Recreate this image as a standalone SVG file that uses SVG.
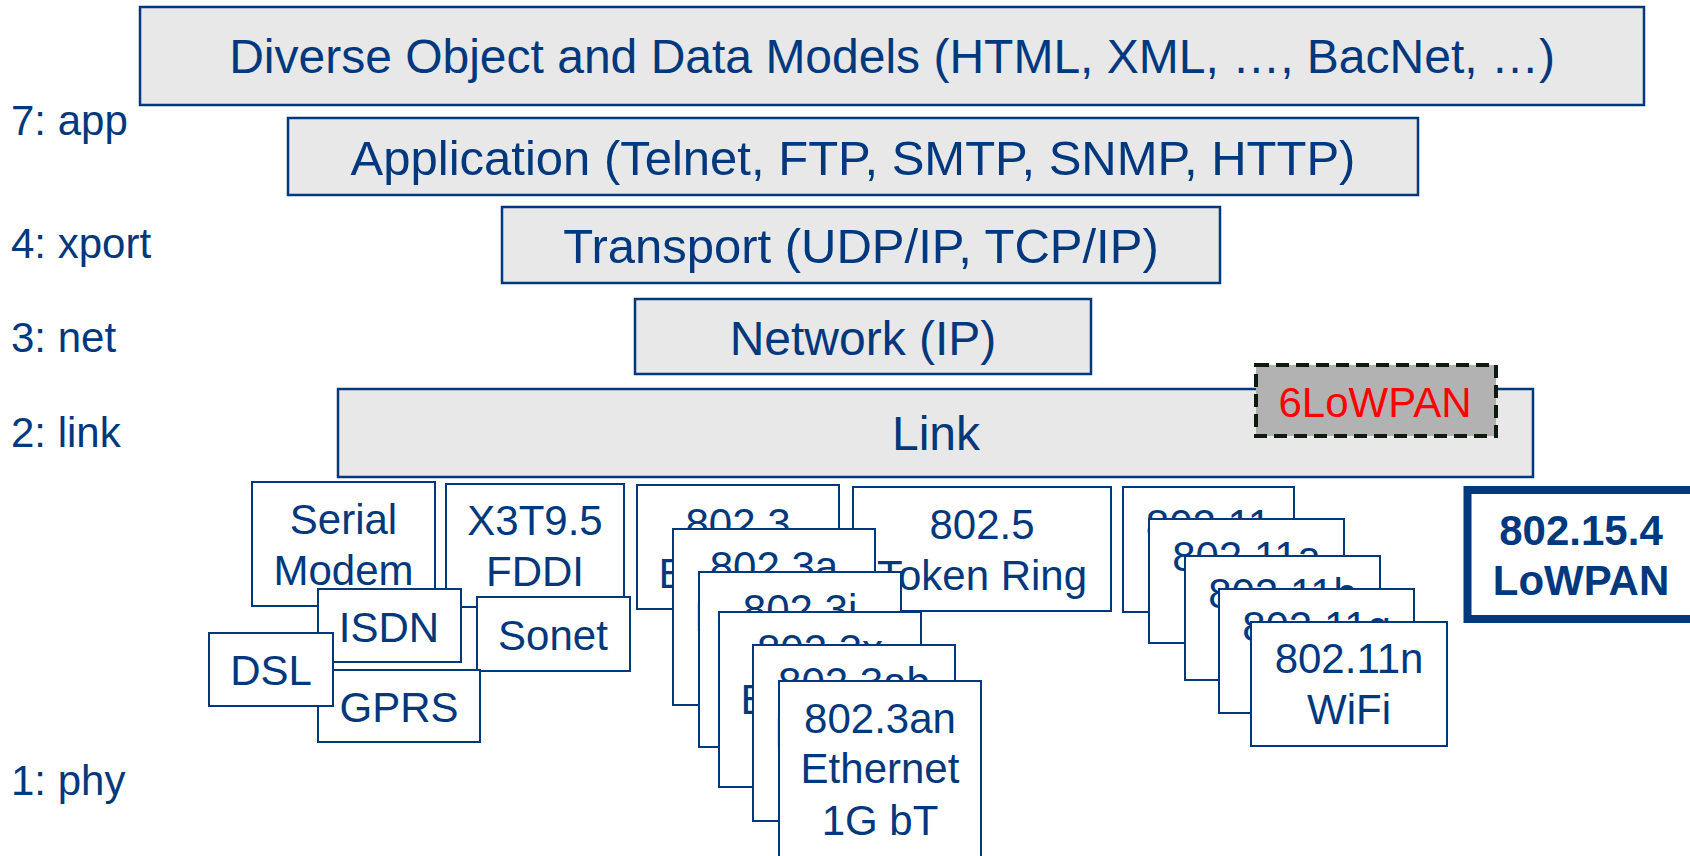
<svg xmlns="http://www.w3.org/2000/svg" width="1690" height="856" viewBox="0 0 1690 856">
  <style>
    text { font-family: "Liberation Sans", Arial, sans-serif; fill: #00387d; }
    .layer { fill: #e8e8e8; stroke: #00387d; stroke-width: 2.5; }
    .box { fill: #ffffff; stroke: #00387d; stroke-width: 2; }
    .big { font-size: 48px; text-anchor: middle; }
    .wide { font-size: 49px; text-anchor: middle; }
    .lbl { font-size: 42px; }
    .phy { font-size: 42px; text-anchor: middle; }
    .bold { font-size: 42px; font-weight: bold; text-anchor: middle; }
    .adapt { fill: #b2b2b2; stroke: #0d1a0d; stroke-width: 4; stroke-dasharray: 13 7; }
    .red { fill: #ff0000; font-size: 42px; text-anchor: middle; }
  </style>
  <rect width="1690" height="856" fill="#ffffff"/>

  <!-- layer labels on the left -->
  <g id="layer-labels">
    <text class="lbl" x="11" y="135">7: app</text>
    <text class="lbl" x="11" y="258">4: xport</text>
    <text class="lbl" x="11" y="352">3: net</text>
    <text class="lbl" x="11" y="447">2: link</text>
    <text class="lbl" x="11" y="795">1: phy</text>
  </g>

  <!-- upper stack -->
  <g id="data-models">
    <rect class="layer" x="140" y="7" width="1504" height="98"/>
    <text class="big" x="892" y="73">Diverse Object and Data Models (HTML, XML, …, BacNet, …)</text>
  </g>
  <g id="application">
    <rect class="layer" x="288" y="118" width="1130" height="77"/>
    <text class="wide" x="853" y="175">Application (Telnet, FTP, SMTP, SNMP, HTTP)</text>
  </g>
  <g id="transport">
    <rect class="layer" x="502" y="207" width="718" height="76"/>
    <text class="wide" x="861" y="263">Transport (UDP/IP, TCP/IP)</text>
  </g>
  <g id="network">
    <rect class="layer" x="635" y="299" width="456" height="75"/>
    <text class="big" x="863" y="355">Network (IP)</text>
  </g>
  <g id="link">
    <rect class="layer" x="338" y="389" width="1195" height="88"/>
    <text class="big" x="936" y="450">Link</text>
  </g>
  <g id="sixlowpan">
    <rect class="adapt" x="1256" y="365" width="240" height="71"/>
    <text class="red" x="1375" y="417">6LoWPAN</text>
  </g>

  <!-- physical links: serial / telco -->
  <g id="serial-modem">
    <rect class="box" x="252" y="482" width="183" height="124"/>
    <text class="phy" x="343.5" y="534">Serial</text>
    <text class="phy" x="343.5" y="585">Modem</text>
  </g>
  <g id="fddi">
    <rect class="box" x="446" y="484" width="178" height="123"/>
    <text class="phy" x="535" y="535">X3T9.5</text>
    <text class="phy" x="535" y="586">FDDI</text>
  </g>
  <g id="isdn">
    <rect class="box" x="318" y="589" width="143" height="73"/>
    <text class="phy" x="389" y="642">ISDN</text>
  </g>
  <g id="sonet">
    <rect class="box" x="477" y="597" width="153" height="74"/>
    <text class="phy" x="553" y="650">Sonet</text>
  </g>
  <g id="gprs">
    <rect class="box" x="318" y="670" width="162" height="72"/>
    <text class="phy" x="399" y="722">GPRS</text>
  </g>
  <g id="dsl">
    <rect class="box" x="209" y="633" width="124" height="73"/>
    <text class="phy" x="271" y="685">DSL</text>
  </g>

  <!-- token ring -->
  <g id="token-ring">
    <rect class="box" x="853" y="487" width="258" height="124"/>
    <text class="phy" x="982" y="539">802.5</text>
    <text class="phy" x="982" y="590">Token Ring</text>
  </g>

  <!-- ethernet family, stacked like cards -->
  <g id="eth-8023">
    <rect class="box" x="637" y="485" width="202" height="124"/>
    <text class="phy" x="738" y="538">802.3</text>
    <text class="phy" x="738" y="588">Ethernet</text>
  </g>
  <g id="eth-8023a">
    <rect class="box" x="673" y="529" width="202" height="176"/>
    <text class="phy" x="774" y="581">802.3a</text>
    <text class="phy" x="774" y="631">Ethernet</text>
  </g>
  <g id="eth-8023i">
    <rect class="box" x="699" y="572" width="202" height="175"/>
    <text class="phy" x="800" y="624">802.3i</text>
  </g>
  <g id="eth-8023x">
    <rect class="box" x="719" y="612" width="202" height="175"/>
    <text class="phy" x="820" y="664">802.3x</text>
    <text class="phy" x="820" y="714">Ethernet</text>
  </g>
  <g id="eth-8023ab">
    <rect class="box" x="753" y="645" width="202" height="176"/>
    <text class="phy" x="854" y="697">802.3ab</text>
    <text class="phy" x="854" y="747">Ethernet</text>
  </g>
  <g id="eth-8023an">
    <rect class="box" x="779" y="681" width="202" height="200"/>
    <text class="phy" x="880" y="733">802.3an</text>
    <text class="phy" x="880" y="783">Ethernet</text>
    <text class="phy" x="880" y="835">1G bT</text>
  </g>

  <!-- wifi family, stacked like cards -->
  <g id="wifi-80211">
    <rect class="box" x="1123" y="487" width="171" height="125"/>
    <text class="phy" x="1208.5" y="539">802.11</text>
  </g>
  <g id="wifi-80211a">
    <rect class="box" x="1149" y="519" width="195" height="124"/>
    <text class="phy" x="1246.5" y="571">802.11a</text>
  </g>
  <g id="wifi-80211b">
    <rect class="box" x="1185" y="556" width="195" height="124"/>
    <text class="phy" x="1282.5" y="608">802.11b</text>
  </g>
  <g id="wifi-80211g">
    <rect class="box" x="1219" y="589" width="195" height="124"/>
    <text class="phy" x="1316.5" y="641">802.11g</text>
  </g>
  <g id="wifi-80211n">
    <rect class="box" x="1251" y="622" width="196" height="124"/>
    <text class="phy" x="1349" y="673">802.11n</text>
    <text class="phy" x="1349" y="724">WiFi</text>
  </g>

  <!-- 802.15.4 -->
  <g id="ieee-802154">
    <rect x="1467.5" y="490" width="227" height="129" fill="#ffffff" stroke="#00387d" stroke-width="8"/>
    <text class="bold" x="1581" y="545">802.15.4</text>
    <text class="bold" x="1581" y="595">LoWPAN</text>
  </g>
</svg>
